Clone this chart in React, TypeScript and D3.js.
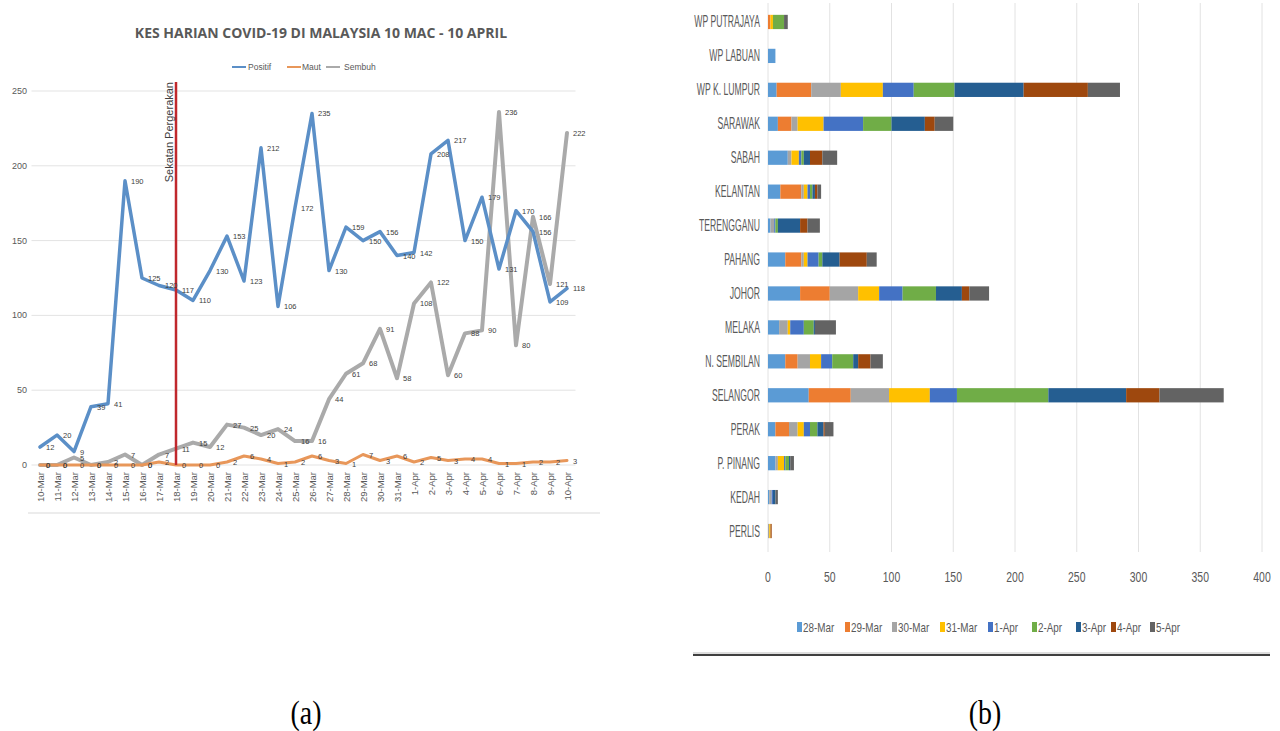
import React from 'react';
import * as d3 from 'd3';

// ---------- Chart (a) data ----------
const dates = ['10-Mar','11-Mar','12-Mar','13-Mar','14-Mar','15-Mar','16-Mar','17-Mar','18-Mar','19-Mar','20-Mar','21-Mar','22-Mar','23-Mar','24-Mar','25-Mar','26-Mar','27-Mar','28-Mar','29-Mar','30-Mar','31-Mar','1-Apr','2-Apr','3-Apr','4-Apr','5-Apr','6-Apr','7-Apr','8-Apr','9-Apr','10-Apr'];
const positif = [12,20,9,39,41,190,125,120,117,110,130,153,123,212,106,172,235,130,159,150,156,140,142,208,217,150,179,131,170,156,109,118];
const maut = [0,0,0,0,0,0,0,2,0,0,0,2,6,4,1,2,6,3,1,7,3,6,2,5,3,4,4,1,1,2,2,3];
const sembuh = [0,0,5,0,2,7,0,7,11,15,12,27,25,20,24,16,16,44,61,68,91,58,108,122,60,88,90,236,80,166,121,222];
const yTicksA = [0,50,100,150,200,250];
const seriesNamesA = ['Positif','Maut','Sembuh'];
const lockdownDate = '18-Mar';

// ---------- Chart (b) data ----------
const states = ['WP PUTRAJAYA','WP LABUAN','WP K. LUMPUR','SARAWAK','SABAH','KELANTAN','TERENGGANU','PAHANG','JOHOR','MELAKA','N. SEMBILAN','SELANGOR','PERAK','P. PINANG','KEDAH','PERLIS'];
const dayKeys = ['28-Mar','29-Mar','30-Mar','31-Mar','1-Apr','2-Apr','3-Apr','4-Apr','5-Apr'];
const s28Mar = [0,6,7,8,16,10,2,14,26,9,14,33,6,6,1,0];
const s29Mar = [2,0,28,11,0,17,0,13,24,0,10,34,11,0,0,0];
const s30Mar = [0,0,24,5,3,2,3,2,23,7,10,31,7,2,2,1];
const s31Mar = [2,0,34,21,6,3,0,3,17,2,9,33,5,5,0,1];
const s1Apr = [0,0,25,32,2,2,1,9,19,11,9,22,5,1,1,0];
const s2Apr = [9,0,33,23,2,2,2,3,27,8,17,74,6,3,0,0];
const s3Apr = [0,0,56,27,5,2,18,14,21,1,4,63,5,1,2,0];
const s4Apr = [0,0,52,8,10,2,6,22,6,0,10,27,1,0,0,1];
const s5Apr = [3,0,26,15,12,3,10,8,16,17,10,52,7,3,2,0];
const xTicksB = [0,50,100,150,200,250,300,350,400];

const colorsA = ['#5b8fc7','#e8975a','#aaaaaa'];
const colorsB = ['#5b9bd5','#ed7d31','#a5a5a5','#ffc000','#4472c4','#70ad47','#255e91','#9e480e','#636363'];

export default function App() {
  // ----- chart (a) scales -----
  const xA = d3.scaleBand<string>().domain(dates).range([31.5, 575.5]).padding(0);
  const yA = d3.scaleLinear().domain([0, 250]).range([465, 91]);
  const cx = (i: number) => (xA(dates[i]) as number) + xA.bandwidth() / 2;
  const line = d3.line<number>().x((_, i) => cx(i)).y((d) => yA(d));
  const seriesA = [positif, maut, sembuh];
  const drawOrder = [2, 1, 0];
  const widthsA = [3.5, 3, 4];
  const lockX = (xA(lockdownDate) as number) + xA.bandwidth() / 2;

  // ----- chart (b) scales -----
  const xB = d3.scaleLinear().domain([0, 400]).range([768, 1262]);
  const yB = d3.scaleBand<string>().domain(states).range([5, 548]).paddingInner(0.58).paddingOuter(0.29);
  const seriesB = [s28Mar, s29Mar, s30Mar, s31Mar, s1Apr, s2Apr, s3Apr, s4Apr, s5Apr];
  const table = states.map((s, i) => {
    const o: any = { state: s };
    dayKeys.forEach((k, j) => (o[k] = seriesB[j][i]));
    return o;
  });
  const stacked = d3.stack<any>().keys(dayKeys)(table);

  const legendA = [
    { lx: 232, tx: 248 },
    { lx: 287, tx: 302 },
    { lx: 326, tx: 344 },
  ];
  const legendBX = [797, 845, 892, 940, 988, 1032, 1076, 1111, 1150];

  return (
    <svg width={1280} height={731} style={{ position: 'absolute', left: 0, top: 0, background: '#fff' }}
      fontFamily="'Liberation Sans', Arial, sans-serif">
      <rect x={0} y={0} width={1280} height={731} fill="#fff" />
      {/* ================= Chart (a) ================= */}
      <text x={321} y={38} textAnchor="middle" fontFamily="'Open Sans', sans-serif" fontWeight={700} fontSize={14} fill="#595959">
        KES HARIAN COVID-19 DI MALAYSIA 10 MAC - 10 APRIL
      </text>
      {seriesNamesA.map((n, i) => (
        <g key={n}>
          <line x1={legendA[i].lx} x2={legendA[i].lx + 14} y1={67} y2={67} stroke={colorsA[i]} strokeWidth={2} />
          <text x={legendA[i].tx} y={70} fontSize={8.5} fill="#595959">{n}</text>
        </g>
      ))}
      {yTicksA.map((t) => (
        <g key={t}>
          <line x1={31.5} x2={575.5} y1={yA(t)} y2={yA(t)} stroke="#e3e3e3" strokeWidth={1} />
          <text x={27} y={yA(t) + 3} textAnchor="end" fontSize={9} fill="#595959">{t}</text>
        </g>
      ))}
      {dates.map((d, i) => (
        <text key={d} transform={`translate(${cx(i) + 3.5},472) rotate(-90)`} textAnchor="end" fontSize={9.5} fill="#595959">{d}</text>
      ))}
      <line x1={28} x2={600} y1={513} y2={513} stroke="#e6e6e6" strokeWidth={1.5} />
      {drawOrder.map((si) => (
        <path key={si} d={line(seriesA[si]) as string} fill="none" stroke={colorsA[si]} strokeWidth={widthsA[si]} strokeLinejoin="round" strokeLinecap="round" />
      ))}
      <line x1={lockX} x2={lockX} y1={82} y2={465} stroke="#c0282d" strokeWidth={2.5} />
      <text transform={`translate(${lockX - 3},82) rotate(-90)`} textAnchor="end" fontSize={11} fill="#404040">Sekatan Pergerakan</text>
      {drawOrder.map((si) => (
        <g key={'lbl' + si}>
          {seriesA[si].map((v, i) => (
            <text key={i} x={cx(i) + 6} y={yA(v) + 3} fontSize={7.5} fill="#404040">{v}</text>
          ))}
        </g>
      ))}

      {/* ================= Chart (b) ================= */}
      {xTicksB.map((t) => (
        <g key={t}>
          <line x1={xB(t)} x2={xB(t)} y1={3} y2={552} stroke="#e2e2e2" strokeWidth={1} />
          <text transform={`translate(${xB(t)},582) scale(0.72,1)`} textAnchor="middle" fontSize={14.5} fill="#595959">{t}</text>
        </g>
      ))}
      {stacked.map((layer, j) => (
        <g key={dayKeys[j]} fill={colorsB[j]}>
          {layer.map((seg, i) => (
            <rect key={i} x={xB(seg[0])} y={yB(states[i]) as number} width={Math.max(0, xB(seg[1]) - xB(seg[0]))} height={yB.bandwidth()} />
          ))}
        </g>
      ))}
      {states.map((s) => (
        <text key={s} transform={`translate(760,${(yB(s) as number) + yB.bandwidth() / 2 + 5.5}) scale(0.54,1)`} textAnchor="end" fontSize={16} fill="#595959">{s}</text>
      ))}
      {dayKeys.map((k, j) => (
        <g key={k}>
          <rect x={legendBX[j]} y={622} width={5} height={10} fill={colorsB[j]} />
          <text transform={`translate(${legendBX[j] + 6},632) scale(0.76,1)`} fontSize={13} fill="#595959">{k}</text>
        </g>
      ))}
      <line x1={693} x2={1270} y1={653} y2={653} stroke="#bbbbbb" strokeWidth={1} />
      <line x1={693} x2={1270} y1={655} y2={655} stroke="#404040" strokeWidth={2} />

      {/* ================= Captions ================= */}
      <text transform="translate(306,724) scale(0.9,1.1)" textAnchor="middle" fontFamily="'Liberation Serif', 'Times New Roman', serif" fontSize={31} fill="#000">(a)</text>
      <text transform="translate(985,724) scale(0.9,1.1)" textAnchor="middle" fontFamily="'Liberation Serif', 'Times New Roman', serif" fontSize={31} fill="#000">(b)</text>
    </svg>
  );
}
